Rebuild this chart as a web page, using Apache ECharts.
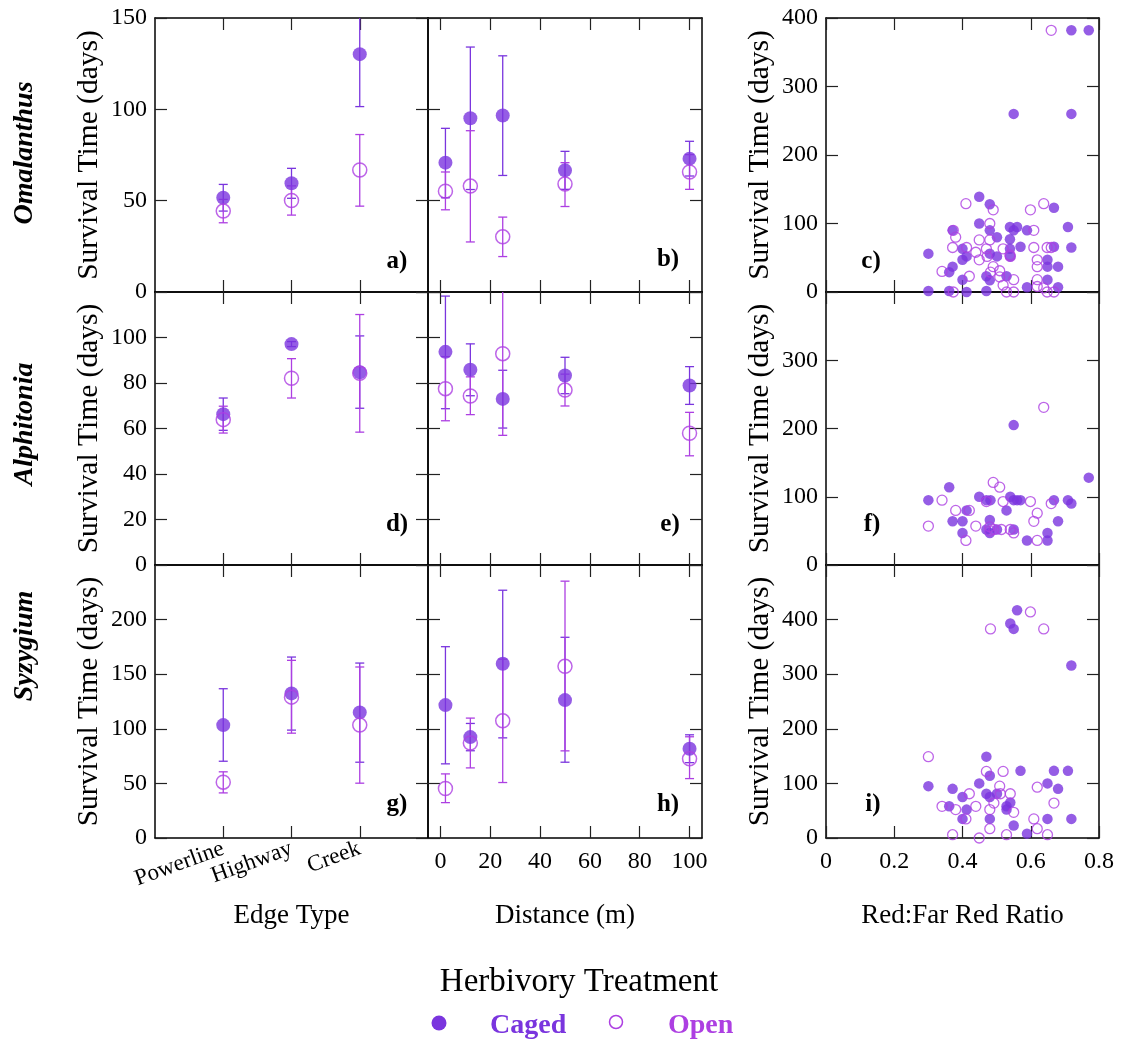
<!DOCTYPE html>
<html>
<head>
<meta charset="utf-8">
<script src="https://cdn.jsdelivr.net/npm/echarts@6/dist/echarts.min.js"></script>
<style>
  html, body { margin: 0; padding: 0; background: #fff; }
  #chart { width: 1121px; height: 1043px; }
</style>
</head>
<body>
<div id="chart"></div>
<script>
// ---------- data ----------
const edgeTypes = ['Powerline', 'Highway', 'Creek'];
const edgePos = [1, 2, 3]; // category slots on the edge-type axis (blank slot at each end)
const distances = [2, 12, 25, 50, 100];

// Omalanthus – mean survival (days) with error-bar limits
const omaEdgeCagedMean = [51.6, 59.5, 130.2];
const omaEdgeCagedLow = [44.3, 51.3, 101.5];
const omaEdgeCagedHigh = [58.9, 67.7, 158.9];
const omaEdgeOpenMean = [44.3, 50.1, 66.8];
const omaEdgeOpenLow = [37.9, 42.1, 47.0];
const omaEdgeOpenHigh = [50.7, 58.1, 86.2];

const omaDistCagedMean = [70.8, 95.1, 96.6, 66.6, 73.0];
const omaDistCagedLow = [51.6, 56.1, 63.8, 56.2, 63.5];
const omaDistCagedHigh = [89.6, 134.1, 129.3, 77.0, 82.5];
const omaDistOpenMean = [55.2, 58.0, 30.2, 59.1, 65.7];
const omaDistOpenLow = [45.0, 27.4, 19.4, 46.8, 56.2];
const omaDistOpenHigh = [65.7, 88.3, 41.0, 70.8, 75.2];

// Alphitonia
const alpEdgeCagedMean = [66.3, 97.1, 84.7];
const alpEdgeCagedLow = [59.2, 96.0, 68.9];
const alpEdgeCagedHigh = [73.4, 98.2, 100.7];
const alpEdgeOpenMean = [63.9, 82.1, 84.3];
const alpEdgeOpenLow = [58.0, 73.4, 58.4];
const alpEdgeOpenHigh = [69.8, 90.7, 110.1];

const alpDistCagedMean = [93.7, 85.8, 73.0, 83.3, 78.9];
const alpDistCagedLow = [68.7, 74.4, 60.2, 75.3, 70.6];
const alpDistCagedHigh = [118.2, 97.2, 85.6, 91.3, 87.2];
const alpDistOpenMean = [77.5, 74.3, 92.9, 76.9, 57.9];
const alpDistOpenLow = [63.4, 66.1, 57.0, 69.9, 48.0];
const alpDistOpenHigh = [91.6, 82.7, 128.8, 83.9, 67.1];

// Syzygium
const syzEdgeCagedMean = [103.4, 132.4, 115.0];
const syzEdgeCagedLow = [70.3, 98.8, 69.4];
const syzEdgeCagedHigh = [136.7, 165.7, 160.2];
const syzEdgeOpenMean = [51.1, 129.0, 103.4];
const syzEdgeOpenLow = [41.3, 96.0, 50.2];
const syzEdgeOpenHigh = [60.6, 162.7, 156.6];

const syzDistCagedMean = [121.7, 92.4, 159.6, 126.3, 81.7];
const syzDistCagedLow = [67.9, 79.9, 91.7, 69.4, 69.0];
const syzDistCagedHigh = [175.2, 104.9, 226.9, 183.8, 94.5];
const syzDistOpenMean = [45.3, 86.9, 107.3, 157.2, 72.5];
const syzDistOpenLow = [32.4, 64.2, 50.8, 79.8, 54.4];
const syzDistOpenHigh = [58.7, 109.8, 163.8, 235.2, 92.7];

// Individual seedlings: [red:far-red ratio, survival days]
const omaCaged = [[0.300,56],[0.300,1.5],[0.361,1.5],[0.361,29],[0.371,37],[0.371,90],[0.400,63],[0.400,47],[0.400,18],[0.412,52],[0.412,0],[0.449,139],[0.449,100],[0.470,1.5],[0.470,23],[0.480,128],[0.480,90],[0.480,56],[0.480,17],[0.501,52],[0.501,80],[0.529,23],[0.539,95],[0.539,77],[0.539,63],[0.540,52],[0.550,90],[0.560,95],[0.550,260],[0.570,66],[0.589,90],[0.589,7],[0.649,47],[0.649,37],[0.649,18],[0.668,123],[0.668,66],[0.680,37],[0.680,7],[0.709,95],[0.719,65],[0.719,260],[0.719,382],[0.770,382]];
const omaOpen = [[0.340,30],[0.371,65],[0.373,90],[0.380,80],[0.373,0],[0.410,129],[0.412,65],[0.420,23],[0.439,58],[0.449,76],[0.449,47],[0.470,63],[0.480,100],[0.480,76],[0.490,120],[0.490,37],[0.482,29],[0.509,31],[0.509,22],[0.519,63],[0.519,10],[0.529,0],[0.540,52],[0.550,18],[0.550,0],[0.599,120],[0.609,90],[0.609,65],[0.619,47],[0.619,37],[0.619,18],[0.619,8],[0.638,129],[0.638,6],[0.648,65],[0.660,65],[0.648,0],[0.668,0],[0.660,382],[0.472,52],[0.539,54]];
const alpCaged = [[0.300,95],[0.361,114],[0.371,64],[0.400,64],[0.400,47],[0.412,80],[0.449,100],[0.470,95],[0.482,95],[0.480,66],[0.470,52],[0.480,47],[0.501,52],[0.529,80],[0.540,100],[0.550,95],[0.560,95],[0.570,95],[0.550,205],[0.550,52],[0.589,36],[0.649,47],[0.649,36],[0.668,95],[0.680,64],[0.709,95],[0.719,90],[0.770,128]];
const alpOpen = [[0.300,57],[0.340,95],[0.380,80],[0.420,80],[0.410,36],[0.439,57],[0.470,93],[0.490,121],[0.509,114],[0.519,93],[0.480,56],[0.480,50],[0.514,52],[0.540,52],[0.550,47],[0.599,93],[0.609,64],[0.619,76],[0.619,36],[0.638,231],[0.660,90],[0.492,52]];
const syzCaged = [[0.300,95],[0.361,58],[0.371,90],[0.400,75],[0.400,35],[0.412,52],[0.449,100],[0.470,149],[0.470,81],[0.480,114],[0.480,75],[0.480,35],[0.501,81],[0.529,58],[0.540,65],[0.529,52],[0.550,23],[0.540,393],[0.550,383],[0.560,417],[0.570,123],[0.589,8],[0.649,100],[0.649,35],[0.668,123],[0.680,90],[0.709,123],[0.719,35],[0.719,316]];
const syzOpen = [[0.300,149],[0.340,58],[0.371,6],[0.380,52],[0.410,35],[0.420,81],[0.439,58],[0.449,0],[0.470,122],[0.480,52],[0.480,17],[0.482,383],[0.492,64],[0.509,95],[0.511,81],[0.519,122],[0.529,6],[0.540,81],[0.550,47],[0.599,414],[0.609,35],[0.619,93],[0.619,17],[0.638,383],[0.649,6],[0.668,64]];

const speciesNames = ['Omalanthus', 'Alphitonia', 'Syzygium'];
const panelLetters = ['a)', 'b)', 'c)', 'd)', 'e)', 'f)', 'g)', 'h)', 'i)'];
const distTicks = [0, 20, 40, 60, 80, 100];

// ---------- styling ----------
const CAGED = '#7a35de';
const OPEN = '#ad3fe2';
const SERIF = '"Liberation Serif", "DejaVu Serif", serif';

const colLeft = [155, 428, 826];
const colWidth = [273, 274, 273];
const rowTop = [18, 292, 565];
const rowHeight = [274, 273, 273];

// y ranges per row
const rowY = [
  { meanMax: 150, meanInt: 50, scatMax: 400, showMax: true },
  { meanMax: 120, meanInt: 20, scatMax: 400, showMax: false },
  { meanMax: 250, meanInt: 50, scatMax: 500, showMax: false }
];

const grids = [], xAxes = [], yAxes = [], series = [];

const lineStyle = { color: '#000', width: 1.5 };
const tickStyle = { show: true, inside: true, length: 12, lineStyle: { color: '#222', width: 1.2 } };
const labelStyle = { fontFamily: SERIF, fontSize: 24, color: '#000' };

function addAxes(panel, row, col) {
  const gi = panel;
  grids.push({ left: colLeft[col], top: rowTop[row], width: colWidth[col], height: rowHeight[row], outerBoundsMode: 'none' });
  const bottomRow = row === 2;
  // x axes (bottom with labels, top mirrored)
  let xBase;
  if (col === 0) {
    xBase = {
      type: 'category', boundaryGap: false,
      data: [''].concat(edgeTypes, ['']),
      axisTick: Object.assign({ interval: (i) => i >= 1 && i <= edgeTypes.length }, tickStyle),
      axisLabel: Object.assign({ interval: 0, rotate: 20, margin: 10 }, labelStyle, { fontSize: 23 })
    };
  } else if (col === 1) {
    xBase = {
      type: 'value', min: -5, max: 105,
      axisTick: Object.assign({ customValues: distTicks }, tickStyle),
      axisLabel: Object.assign({ customValues: distTicks, margin: 12 }, labelStyle)
    };
  } else {
    xBase = {
      type: 'value', min: 0, max: 0.8, interval: 0.2,
      axisTick: tickStyle,
      axisLabel: Object.assign({ margin: 12, formatter: v => (v === 0 ? '0' : String(+v.toFixed(1))) }, labelStyle)
    };
  }
  const xNames = ['Edge Type', 'Distance (m)', 'Red:Far Red Ratio'];
  const xb = Object.assign({}, xBase, {
    gridIndex: gi, position: 'bottom',
    axisLine: { show: true, onZero: false, lineStyle },
    splitLine: { show: false },
    axisLabel: Object.assign({}, xBase.axisLabel, { show: bottomRow }),
    name: bottomRow ? xNames[col] : '',
    nameLocation: 'middle', nameGap: 64,
    nameTextStyle: { fontFamily: SERIF, fontSize: 27, color: '#000' }
  });
  const xt = Object.assign({}, xBase, {
    gridIndex: gi, position: 'top',
    axisLine: { show: true, onZero: false, lineStyle },
    splitLine: { show: false },
    axisLabel: { show: false }
  });
  xAxes.push(xb, xt);

  const ry = rowY[row];
  const scatter = col === 2;
  const yBase = {
    type: 'value', min: 0,
    max: scatter ? ry.scatMax : ry.meanMax,
    interval: scatter ? 100 : ry.meanInt,
    axisTick: tickStyle,
    splitLine: { show: false },
    axisLine: { show: true, onZero: false, lineStyle }
  };
  const hasLabels = col !== 1;
  const yl = Object.assign({}, yBase, {
    gridIndex: gi, position: 'left',
    axisLabel: Object.assign({ show: hasLabels, margin: 8, showMaxLabel: ry.showMax }, labelStyle),
    name: hasLabels ? 'Survival Time (days)' : '',
    nameLocation: 'middle', nameGap: 51,
    nameTextStyle: { fontFamily: SERIF, fontSize: 29.5, color: '#000' }
  });
  const yr = Object.assign({}, yBase, {
    gridIndex: gi, position: 'right',
    axisLabel: { show: false }
  });
  yAxes.push(yl, yr);
}

function errorBars(axisIdx, xs, low, high, color) {
  return {
    type: 'custom',
    xAxisIndex: axisIdx, yAxisIndex: axisIdx,
    silent: true,
    data: xs.map((x, i) => [x, low[i], high[i]]),
    renderItem: (params, api) => {
      const x = api.value(0);
      const lo = api.coord([x, api.value(1)]);
      const hi = api.coord([x, api.value(2)]);
      const cs = params.coordSys;
      const top = cs.y, bottom = cs.y + cs.height;
      const st = { stroke: color, lineWidth: 1.3 };
      const kids = [{
        type: 'line',
        shape: { x1: lo[0], y1: Math.min(lo[1], bottom), x2: hi[0], y2: Math.max(hi[1], top) },
        style: st
      }];
      const w = 4.5;
      if (hi[1] >= top) kids.push({ type: 'line', shape: { x1: hi[0] - w, y1: hi[1], x2: hi[0] + w, y2: hi[1] }, style: st });
      if (lo[1] <= bottom) kids.push({ type: 'line', shape: { x1: lo[0] - w, y1: lo[1], x2: lo[0] + w, y2: lo[1] }, style: st });
      return { type: 'group', children: kids };
    }
  };
}

function meanPoints(axisIdx, xs, mean, filled, name) {
  return {
    type: 'scatter', name,
    xAxisIndex: axisIdx, yAxisIndex: axisIdx,
    symbol: 'circle', symbolSize: 14,
    data: xs.map((x, i) => [x, mean[i]]),
    itemStyle: filled
      ? { color: CAGED }
      : { color: 'rgba(255,255,255,0)', borderColor: OPEN, borderWidth: 1.5 }
  };
}

function rawPoints(axisIdx, pts, filled, name) {
  return {
    type: 'scatter', name,
    xAxisIndex: axisIdx, yAxisIndex: axisIdx,
    symbol: 'circle', symbolSize: filled ? 10.5 : 10,
    data: pts,
    itemStyle: filled
      ? { color: CAGED }
      : { color: 'rgba(255,255,255,0)', borderColor: OPEN, borderWidth: 1.3 }
  };
}

const meanSets = [
  [
    [omaEdgeCagedMean, omaEdgeCagedLow, omaEdgeCagedHigh, omaEdgeOpenMean, omaEdgeOpenLow, omaEdgeOpenHigh],
    [omaDistCagedMean, omaDistCagedLow, omaDistCagedHigh, omaDistOpenMean, omaDistOpenLow, omaDistOpenHigh]
  ],
  [
    [alpEdgeCagedMean, alpEdgeCagedLow, alpEdgeCagedHigh, alpEdgeOpenMean, alpEdgeOpenLow, alpEdgeOpenHigh],
    [alpDistCagedMean, alpDistCagedLow, alpDistCagedHigh, alpDistOpenMean, alpDistOpenLow, alpDistOpenHigh]
  ],
  [
    [syzEdgeCagedMean, syzEdgeCagedLow, syzEdgeCagedHigh, syzEdgeOpenMean, syzEdgeOpenLow, syzEdgeOpenHigh],
    [syzDistCagedMean, syzDistCagedLow, syzDistCagedHigh, syzDistOpenMean, syzDistOpenLow, syzDistOpenHigh]
  ]
];
const rawSets = [[omaCaged, omaOpen], [alpCaged, alpOpen], [syzCaged, syzOpen]];

for (let row = 0; row < 3; row++) {
  for (let col = 0; col < 3; col++) {
    const panel = row * 3 + col;
    addAxes(panel, row, col);
    const ax = panel * 2;
    if (col < 2) {
      const xs = col === 0 ? edgePos : distances;
      const [cm, cl, ch, om, ol, oh] = meanSets[row][col];
      series.push(errorBars(ax, xs, cl, ch, CAGED));
      series.push(meanPoints(ax, xs, cm, true, 'Caged'));
      series.push(errorBars(ax, xs, ol, oh, OPEN));
      series.push(meanPoints(ax, xs, om, false, 'Open'));
    } else {
      series.push(rawPoints(ax, rawSets[row][0], true, 'Caged'));
      series.push(rawPoints(ax, rawSets[row][1], false, 'Open'));
    }
  }
}

// ---------- text: species, panel letters, legend ----------
const graphics = [];
const speciesY = [153, 424, 646];
speciesNames.forEach((s, i) => {
  graphics.push({
    type: 'text', x: 25, y: speciesY[i], rotation: Math.PI / 2,
    style: { text: s, fontFamily: SERIF, fontSize: 28, fontWeight: 'bold', fontStyle: 'italic',
      fill: '#000', align: 'center', verticalAlign: 'middle', textAlign: 'center', textVerticalAlign: 'middle' }
  });
});
const letterPos = [[397, 262], [668, 260], [871, 262], [397, 525], [670, 525], [872, 525], [397, 805], [668, 805], [873, 805]];
panelLetters.forEach((t, i) => {
  graphics.push({
    type: 'text', x: letterPos[i][0], y: letterPos[i][1],
    style: { text: t, fontFamily: SERIF, fontSize: 25, fontWeight: 'bold', fill: '#000',
      align: 'center', verticalAlign: 'middle', textAlign: 'center', textVerticalAlign: 'middle' }
  });
});
graphics.push({
  type: 'text', x: 579, y: 982,
  style: { text: 'Herbivory Treatment', fontFamily: SERIF, fontSize: 33, fill: '#000',
    align: 'center', verticalAlign: 'middle', textAlign: 'center', textVerticalAlign: 'middle' }
});
graphics.push({ type: 'circle', shape: { cx: 439, cy: 1023, r: 7.5 }, style: { fill: CAGED } });
graphics.push({
  type: 'text', x: 490, y: 1026,
  style: { text: 'Caged', fontFamily: SERIF, fontSize: 28, fontWeight: 'bold', fill: CAGED,
    align: 'left', verticalAlign: 'middle', textAlign: 'left', textVerticalAlign: 'middle' }
});
graphics.push({ type: 'circle', shape: { cx: 616, cy: 1022, r: 6.5 }, style: { fill: 'none', stroke: OPEN, lineWidth: 1.5 } });
graphics.push({
  type: 'text', x: 668, y: 1026,
  style: { text: 'Open', fontFamily: SERIF, fontSize: 28, fontWeight: 'bold', fill: OPEN,
    align: 'left', verticalAlign: 'middle', textAlign: 'left', textVerticalAlign: 'middle' }
});

const chart = echarts.init(document.getElementById('chart'), null, { renderer: 'canvas' });
chart.setOption({
  animation: false,
  backgroundColor: '#fff',
  grid: grids,
  xAxis: xAxes,
  yAxis: yAxes,
  series,
  graphic: graphics
});
</script>
</body>
</html>
